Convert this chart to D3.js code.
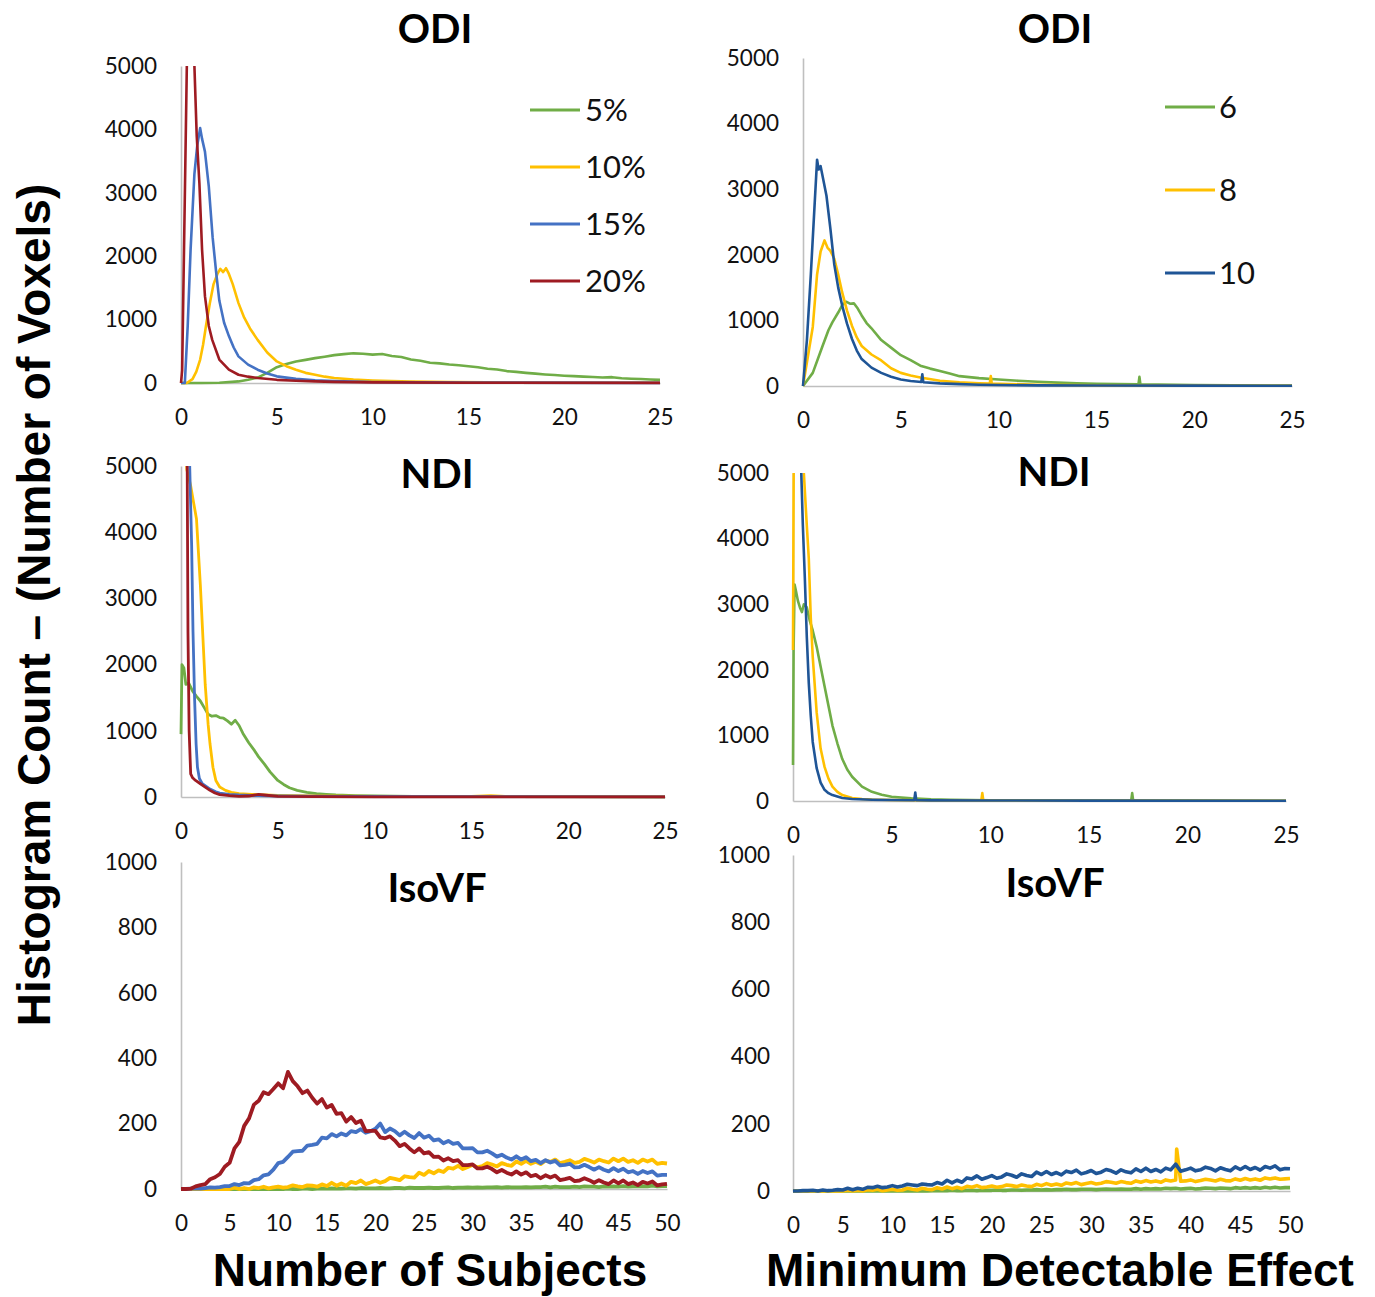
<!DOCTYPE html>
<html>
<head>
<meta charset="utf-8">
<script src="https://cdn.jsdelivr.net/npm/d3@7"></script>
<style>
  html, body { margin: 0; padding: 0; background: #ffffff; }
  svg { display: block; }
</style>
</head>
<body>
<script>
// ---------------- DATA ----------------
const subjLegend = ["5%", "10%", "15%", "20%"];
const mdeLegend = ["6", "8", "10"];
const countTicks5000 = [0, 1000, 2000, 3000, 4000, 5000];
const countTicks1000 = [0, 200, 400, 600, 800, 1000];
const xTicks25 = [0, 5, 10, 15, 20, 25];
const xTicks50 = [0, 5, 10, 15, 20, 25, 30, 35, 40, 45, 50];
const panelTitles = ["ODI", "ODI", "NDI", "NDI", "IsoVF", "IsoVF"];
const xAxisTitles = ["Number of Subjects", "Minimum Detectable Effect"];
const yAxisTitle = "Histogram Count \u2013 (Number of Voxels)";

// ODI vs number of subjects  [x, count]
const odiSubj5 = [[0,0],[1,0],[2,5],[3,25],[3.5,50],[4,85],[4.5,160],[5,250],[5.5,300],[6,340],[6.5,365],[7,392],[7.5,415],[8,440],[8.5,455],[9,468],[9.5,462],[10,448],[10.5,458],[11,425],[11.5,410],[12,372],[12.5,350],[13,320],[13.5,310],[14,292],[14.5,280],[15,265],[15.5,248],[16,225],[16.5,212],[17,188],[17.5,175],[18,160],[18.5,148],[19,135],[19.5,125],[20,115],[20.5,108],[21,100],[21.5,94],[22,86],[22.5,92],[23,74],[23.5,68],[24,62],[24.5,55],[25,50]];
const odiSubj10 = [[0,0],[0.3,0],[0.6,60],[0.8,180],[1,370],[1.15,600],[1.3,890],[1.5,1250],[1.7,1560],[1.9,1720],[2.05,1800],[2.2,1750],[2.35,1810],[2.5,1720],[2.7,1560],[3,1260],[3.3,1030],[3.6,860],[4,680],[4.5,480],[5,340],[5.5,265],[6,210],[6.5,160],[7,130],[7.5,100],[8,80],[9,55],[10,40],[11,30],[12,22],[14,14],[16,10],[20,5],[25,3]];
const odiSubj15 = [[0,0],[0.2,0],[0.35,900],[0.5,2100],[0.7,3300],[0.85,3750],[1.0,4020],[1.1,3850],[1.25,3650],[1.45,3100],[1.65,2300],[1.85,1700],[2.0,1300],[2.25,950],[2.5,740],[2.75,560],[3,420],[3.5,290],[4,210],[4.5,150],[5,105],[6,65],[7,42],[8,30],[10,15],[15,6],[25,2]];
const odiSubj20 = [[0,0],[0.06,200],[0.34,5700],[0.5,6600],[0.7,5000],[0.82,3900],[0.96,3150],[1.1,2100],[1.25,1370],[1.45,900],[1.63,680],[2,370],[2.5,210],[3,130],[3.5,100],[4,80],[5,50],[6,35],[7,25],[8,18],[10,10],[15,5],[25,2]];

// ODI vs minimum detectable effect
const odiMde6 = [[0,0],[0.5,200],[1,610],[1.3,850],[1.5,970],[1.8,1120],[2.0,1230],[2.2,1285],[2.4,1255],[2.6,1260],[2.8,1180],[3,1075],[3.25,960],[3.5,880],[4,700],[4.5,585],[5,470],[5.5,395],[6,310],[6.5,265],[7,230],[7.5,190],[8,150],[9,120],[10,100],[11,80],[12,65],[13,52],[14,42],[15,35],[17.15,26],[17.2,140],[17.25,26],[20,15],[25,6]];
const odiMde8 = [[0,0],[0.25,450],[0.5,900],[0.72,1700],[0.9,2050],[1.1,2220],[1.25,2110],[1.4,2060],[1.6,1940],[1.8,1700],[2.0,1430],[2.25,1150],[2.5,920],[2.75,740],[3,610],[3.5,480],[4,390],[4.5,270],[5,200],[5.5,160],[6,130],[7,80],[8,55],[9,42],[9.55,38],[9.6,150],[9.65,38],[10,35],[12,20],[15,10],[20,5],[25,3]];
const odiMde10 = [[0,0],[0.2,700],[0.4,1700],[0.6,2800],[0.72,3450],[0.8,3300],[0.9,3350],[1.0,3200],[1.2,2900],[1.4,2400],[1.6,1850],[1.8,1500],[2.0,1230],[2.25,950],[2.5,720],[2.75,540],[3,410],[3.5,280],[4,200],[4.5,140],[5,100],[5.5,75],[6.05,60],[6.1,180],[6.15,58],[7,40],[8,28],[9,20],[10,15],[12,10],[15,8],[20,5],[25,4]];

// NDI vs number of subjects
const ndiSubj5 = [[0,950],[0.05,2000],[0.15,1950],[0.25,1700],[0.4,1720],[0.6,1600],[0.8,1520],[1.0,1450],[1.2,1350],[1.4,1250],[1.6,1220],[1.8,1230],[2.0,1200],[2.2,1190],[2.4,1150],[2.6,1100],[2.8,1160],[3.0,1080],[3.2,960],[3.5,820],[3.8,700],[4.0,610],[4.3,500],[4.6,380],[5.0,250],[5.3,190],[5.6,140],[6.0,100],[6.5,70],[7,50],[7.5,40],[8,30],[9,20],[10,15],[12,10],[15,8],[20,5],[25,3]];
const ndiSubj10 = [[0.1,7000],[0.3,4950],[0.5,4700],[0.65,4450],[0.8,4200],[0.9,3700],[1.0,3200],[1.1,2600],[1.25,1700],[1.4,1100],[1.5,800],[1.65,450],[1.8,250],[2.0,150],[2.3,100],[2.6,70],[3,50],[4,35],[5,25],[7,15],[10,10],[15,8],[16,20],[17,5],[25,3]];
const ndiSubj15 = [[0.3,7000],[0.45,5000],[0.55,3800],[0.62,2500],[0.7,1500],[0.78,800],[0.85,450],[0.95,280],[1.1,200],[1.3,160],[1.5,120],[1.8,80],[2,60],[2.5,40],[3,30],[4,20],[5,15],[8,10],[25,3]];
const ndiSubj20 = [[0.22,8000],[0.32,5000],[0.36,2500],[0.42,1000],[0.5,350],[0.6,290],[0.75,250],[1.0,200],[1.25,150],[1.5,100],[1.75,60],[2.0,35],[2.5,20],[3,10],[3.5,15],[4,40],[4.3,30],[5,10],[7,5],[10,3],[25,2]];

// NDI vs minimum detectable effect
const ndiMde6 = [[0,550],[0.03,2300],[0.08,3300],[0.15,3200],[0.25,3050],[0.35,2950],[0.45,2880],[0.55,3000],[0.7,2950],[0.85,2750],[1.0,2600],[1.2,2350],[1.4,2050],[1.6,1750],[1.8,1450],[2.0,1150],[2.25,880],[2.5,640],[2.75,480],[3,370],[3.5,220],[4,140],[4.5,95],[5,65],[6,40],[7,25],[8,18],[10,12],[15,8],[17.15,6],[17.2,120],[17.25,6],[20,5],[25,3]];
const ndiMde8 = [[0,2300],[0.04,5500],[0.1,7000],[0.4,6500],[0.55,5000],[0.7,4200],[0.8,3700],[0.9,2800],[1.0,2200],[1.2,1350],[1.4,800],[1.6,520],[1.8,340],[2.0,220],[2.25,140],[2.5,90],[3,45],[3.5,30],[4,22],[5,15],[7,10],[9.55,8],[9.6,120],[9.65,8],[10,8],[15,5],[25,3]];
const ndiMde10 = [[0.3,9000],[0.42,5000],[0.5,4200],[0.6,3400],[0.7,2500],[0.8,1800],[0.9,1300],[1.0,900],[1.2,500],[1.4,280],[1.6,170],[1.8,120],[2.0,90],[2.5,45],[3,30],[4,20],[5,15],[6.15,12],[6.2,130],[6.25,12],[7,10],[10,8],[15,6],[25,4]];

// IsoVF: counts at 0, 0.5, 1, ... 50
const isoX = d3.range(0, 50.001, 0.5);
const isoSubj5 = [0,0,0,0,0,0,0,0,0,0, 0,0,0,0,0,0,0,0,0,0, 0,0,1,0,0,1,1,0,1,1, 1,2,1,1,2,2,1,3,2,2, 2,3,2,2,3,3,2,4,3,3, 3,4,3,3,4,5,3,4,4,5, 4,5,4,5,5,6,4,6,5,5, 5,6,5,6,6,7,5,7,6,6, 6,7,6,8,7,7,6,8,7,8, 7,9,7,8,8,9,8,10,8,9, 9];
const isoSubj10 = [0,0,0,0,0,0,0,0,0,0, 0,4,0,3,0,5,3,7,2,5, 7,4,6,11,8,6,11,10,7,14, 9,19,10,17,10,22,18,26,15,20, 26,19,24,34,31,27,39,36,35,50, 43,55,48,57,52,65,62,71,61,67, 74,66,70,79,75,69,79,74,71,84, 77,86,77,83,76,87,83,90,79,83, 88,80,83,92,87,81,90,85,81,93, 85,93,83,88,80,90,84,90,77,80, 78];
const isoSubj15 = [0,0,1,2,1,3,5,4,6,9, 9,15,12,18,17,27,30,42,45,59, 79,83,98,114,116,117,133,135,138,157, 155,168,161,170,164,177,174,183,172,177, 184,200,174,185,177,164,175,164,156,171, 157,163,149,152,140,147,138,141,124,124, 125,112,112,117,109,99,105,96,90,100, 90,97,85,89,79,88,81,86,72,74, 77,66,67,74,67,59,67,59,54,64, 55,62,51,55,46,55,49,54,41,43, 43];
const isoSubj20 = [0,0,1,8,12,15,30,36,46,68, 80,124,144,193,216,258,270,296,290,306, 323,308,358,330,314,293,301,279,261,275, 249,257,230,232,206,220,202,209,177,178, 178,158,155,161,148,131,138,124,112,124, 109,113,98,99,87,94,85,88,73,73, 75,63,63,68,61,51,58,50,44,54, 44,51,39,43,33,42,35,41,27,30, 34,24,26,33,27,19,27,20,15,26, 17,26,15,20,12,22,17,23,11,14, 16];
const isoMde6 = [0,0,0,0,0,0,0,0,0,0, 0,0,0,0,0,0,0,0,0,0, 0,0,0,1,0,0,1,0,1,1, 1,1,2,1,1,2,2,1,2,2, 2,3,2,2,3,3,2,3,3,4, 3,4,3,4,4,5,4,4,5,5, 5,4,5,6,5,5,6,5,5,7, 5,7,6,7,6,8,7,8,6,7, 8,6,7,9,8,7,9,8,7,10, 8,10,8,10,8,11,9,11,9,10, 10];
const isoMde8 = [0,0,0,0,0,0,0,0,0,0, 0,2,0,2,0,4,2,5,1,3, 5,2,3,8,5,3,8,5,4,10, 6,12,7,11,7,14,11,16,10,12, 15,11,13,18,16,13,18,15,13,20, 16,22,17,21,17,24,21,25,19,22, 25,21,23,28,26,23,28,25,23,30, 26,31,27,30,26,33,30,33,29,30, 33,28,31,35,33,30,35,31,30,36, 32,37,33,36,32,39,36,39,35,36, 37];
const isoMde10 = [0,0,1,1,2,0,3,1,2,4, 3,8,4,8,5,11,10,14,10,12, 16,12,15,20,18,16,21,19,18,25, 21,32,24,32,26,39,36,45,35,40, 46,38,42,51,47,41,51,46,43,56, 49,58,49,55,48,59,55,62,51,55, 61,52,56,64,60,53,63,57,54,66, 58,68,58,64,57,68,63,80,59,63, 68,60,63,71,67,60,69,64,60,72, 64,73,64,70,62,73,68,75,63,67, 66];
const isoMde8Spike = [[38.6, 125]];

// ---------------- STYLE ----------------
const colSubj = ["#70ad47", "#ffc000", "#4472c4", "#9e1b22"];
const colMde = ["#70ad47", "#ffc000", "#1f5596"];
const tickFont = "Lato, 'Open Sans', sans-serif";
const axisGray = "#bfbfbf";

const svg = d3.select("body").append("svg")
  .attr("width", 1375).attr("height", 1297)
  .style("background", "#fff");

const toPairs = (vals) => isoX.map((x, i) => [x, vals[i]]);
const withSpikes = (pairs, spikes) => pairs.concat(spikes).sort((a, b) => a[0] - b[0]);

const panels = [
  { id: "p1", left: 181, right: 660, bottom: 383, top: 66, xMax: 25, yMax: 5000, xTicks: xTicks25, yTicks: countTicks5000, yLabRight: 157, title: panelTitles[0], tx: 435, ty: 43,
    series: [odiSubj5, odiSubj10, odiSubj15, odiSubj20], colors: colSubj, width: 2.6,
    legend: { labels: subjLegend, x1: 530, x2: 580, tx: 585, ys: [110, 167, 224, 281] } },
  { id: "p2", left: 803, right: 1292, bottom: 386, top: 58, xMax: 25, yMax: 5000, xTicks: xTicks25, yTicks: countTicks5000, yLabRight: 779, title: panelTitles[1], tx: 1055, ty: 43,
    series: [odiMde6, odiMde8, odiMde10], colors: colMde, width: 2.6,
    legend: { labels: mdeLegend, x1: 1165, x2: 1215, tx: 1219, ys: [107, 190, 273] } },
  { id: "p3", left: 181, right: 665, bottom: 797, top: 466, xMax: 25, yMax: 5000, xTicks: xTicks25, yTicks: countTicks5000, yLabRight: 157, title: panelTitles[2], tx: 437, ty: 488,
    series: [ndiSubj5, ndiSubj10, ndiSubj15, ndiSubj20], colors: colSubj, width: 2.8 },
  { id: "p4", left: 793, right: 1286, bottom: 801, top: 473, xMax: 25, yMax: 5000, xTicks: xTicks25, yTicks: countTicks5000, yLabRight: 769, title: panelTitles[3], tx: 1054, ty: 486,
    series: [ndiMde6, ndiMde8, ndiMde10], colors: colMde, width: 2.6 },
  { id: "p5", left: 181, right: 667, bottom: 1189, top: 862, xMax: 50, yMax: 1000, xTicks: xTicks50, yTicks: countTicks1000, yLabRight: 157, title: panelTitles[4], tx: 437, ty: 902,
    series: [toPairs(isoSubj5), toPairs(isoSubj10), toPairs(isoSubj15), toPairs(isoSubj20)], colors: colSubj, width: 3.8 },
  { id: "p6", left: 793, right: 1290, bottom: 1191, top: 855, xMax: 50, yMax: 1000, xTicks: xTicks50, yTicks: countTicks1000, yLabRight: 770, title: panelTitles[5], tx: 1055, ty: 897,
    series: [toPairs(isoMde6), withSpikes(toPairs(isoMde8), isoMde8Spike), toPairs(isoMde10)], colors: colMde, width: 3.6 }
];

panels.forEach(p => {
  const x = d3.scaleLinear().domain([0, p.xMax]).range([p.left, p.right]);
  const y = d3.scaleLinear().domain([0, p.yMax]).range([p.bottom, p.top]);
  const g = svg.append("g");

  svg.append("clipPath").attr("id", "clip-" + p.id)
    .append("rect").attr("x", p.left - 4).attr("y", p.top).attr("width", p.right - p.left + 10).attr("height", p.bottom - p.top + 6);

  const ya = g.append("g").attr("transform", `translate(${p.left},0)`)
    .call(d3.axisLeft(y).tickValues(p.yTicks).tickFormat(d3.format("d")).tickSize(0).tickSizeOuter(0).tickPadding(p.left - p.yLabRight));
  ya.select(".domain").attr("stroke", axisGray).attr("stroke-width", 1.6);
  ya.selectAll("text").attr("font-family", tickFont).attr("font-size", 22.5).attr("fill", "#111");

  const xa = g.append("g").attr("transform", `translate(0,${p.bottom})`)
    .call(d3.axisBottom(x).tickValues(p.xTicks).tickFormat(d3.format("d")).tickSize(0).tickSizeOuter(0));
  xa.select(".domain").attr("stroke", axisGray).attr("stroke-width", 1.6);
  xa.selectAll("text").attr("font-family", tickFont).attr("font-size", 22.5).attr("fill", "#111")
    .attr("y", 34).attr("dy", "0.35em");

  g.append("text").attr("x", p.tx).attr("y", p.ty).attr("text-anchor", "middle")
    .attr("font-family", "Lato, 'Open Sans', sans-serif").attr("font-weight", 700).attr("font-size", 40)
    .attr("fill", "#000").text(p.title);

  const line = d3.line().x(d => x(d[0])).y(d => y(d[1]));
  const lg = g.append("g").attr("clip-path", `url(#clip-${p.id})`);
  p.series.forEach((s, i) => {
    lg.append("path").datum(s).attr("d", line)
      .attr("fill", "none").attr("stroke", p.colors[i]).attr("stroke-width", p.width)
      .attr("stroke-linejoin", "round");
  });

  if (p.legend) {
    const L = p.legend;
    L.labels.forEach((lab, i) => {
      g.append("line").attr("x1", L.x1).attr("x2", L.x2).attr("y1", L.ys[i]).attr("y2", L.ys[i])
        .attr("stroke", p.colors[i]).attr("stroke-width", 3);
      g.append("text").attr("x", L.tx).attr("y", L.ys[i]).attr("dy", "0.36em")
        .attr("font-family", tickFont).attr("font-size", 31).attr("fill", "#111").text(lab);
    });
  }
});

svg.append("text").attr("transform", "translate(50,605) rotate(-90)").attr("text-anchor", "middle")
  .attr("font-family", "'Liberation Sans', Arial, sans-serif").attr("font-weight", 700).attr("font-size", 46)
  .attr("fill", "#000").text(yAxisTitle);
svg.append("text").attr("x", 430).attr("y", 1286).attr("text-anchor", "middle")
  .attr("font-family", "'Liberation Sans', Arial, sans-serif").attr("font-weight", 700).attr("font-size", 46)
  .attr("fill", "#000").text(xAxisTitles[0]);
svg.append("text").attr("x", 1060).attr("y", 1286).attr("text-anchor", "middle")
  .attr("font-family", "'Liberation Sans', Arial, sans-serif").attr("font-weight", 700).attr("font-size", 46)
  .attr("fill", "#000").text(xAxisTitles[1]);
</script>
</body>
</html>
